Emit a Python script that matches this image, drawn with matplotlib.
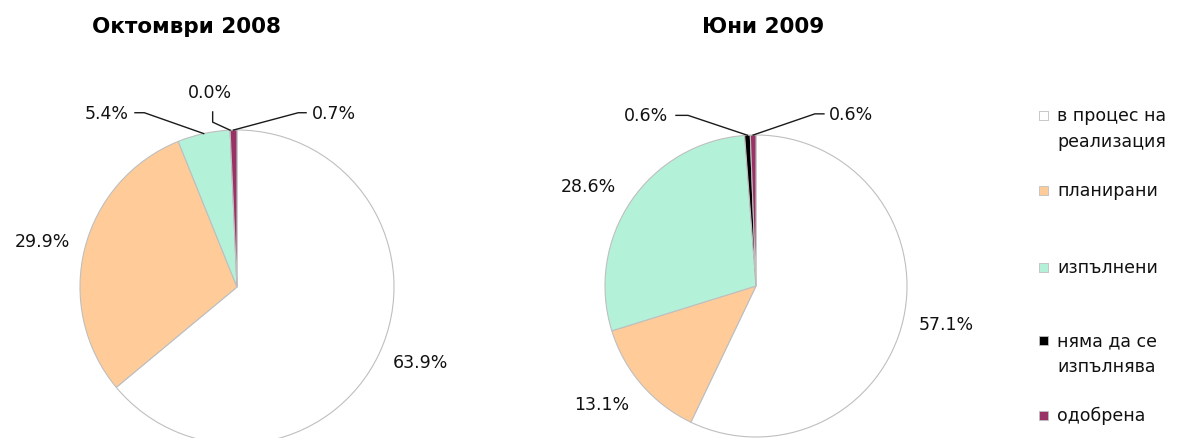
import numpy as np
import matplotlib.pyplot as plt
from matplotlib.patches import Rectangle

categories = ['в процес на\nреализация', 'планирани', 'изпълнени', 'няма да се\nизпълнява', 'одобрена']
colors = ['#ffffff', '#ffcc99', '#b3f2d9', '#000000', '#993366']
oct_2008 = [63.9, 29.9, 5.4, 0.0, 0.7]
jun_2009 = [57.1, 13.1, 28.6, 0.6, 0.6]
titles = ['Октомври 2008', 'Юни 2009']

W, H = 1181, 439
plt.rcParams['font.family'] = ['DejaVu Sans']
fig = plt.figure(figsize=(W / 100, H / 100), dpi=100)

# label layout per pie: text pos, alignment, leader path (elbow, stub end)
left_labels = [
    ((1.17, -0.48), 'center', []),
    ((-1.24, 0.29), 'center', []),
    ((-0.69, 1.11), 'right', [(-0.59, 1.11), (-0.65, 1.11)]),
    ((-0.17, 1.24), 'center', [(-0.155, 1.05), (-0.155, 1.115)]),
    ((0.48, 1.11), 'left', [(0.39, 1.11), (0.44, 1.11)]),
]
right_labels = [
    ((1.26, -0.25), 'center', []),
    ((-1.02, -0.78), 'center', []),
    ((-1.11, 0.66), 'center', []),
    ((-0.58, 1.13), 'right', [(-0.45, 1.13), (-0.53, 1.13)]),
    ((0.48, 1.14), 'left', [(0.39, 1.14), (0.45, 1.14)]),
]


def draw_pie(values, cx, cy, r, labels, title, tx):
    ax = fig.add_axes([(cx - r) / W, (H - cy - r) / H, 2 * r / W, 2 * r / H])
    wedges, _ = ax.pie(values, colors=colors, startangle=90, counterclock=False,
                       radius=1.0, wedgeprops=dict(edgecolor='#bfbfbf', linewidth=0.8))
    ax.set_xlim(-1, 1)
    ax.set_ylim(-1, 1)
    ax.set_aspect('equal')
    ax.axis('off')
    for w, v, (pos, ha, path) in zip(wedges, values, labels):
        ax.text(pos[0], pos[1], f'{v:.1f}%', ha=ha, va='center', fontsize=12.5,
                color='#111111', clip_on=False)
        if path:
            ang = np.deg2rad((w.theta1 + w.theta2) / 2)
            xs = [np.cos(ang)] + [p[0] for p in path]
            ys = [np.sin(ang)] + [p[1] for p in path]
            ax.plot(xs, ys, color='#1a1a1a', lw=1.0, clip_on=False)
    fig.text(tx / W, 1 - 27 / H, title, ha='center', va='center',
             fontsize=15.5, fontweight='bold')


draw_pie(oct_2008, 237, 288, 157, left_labels, titles[0], 186)
draw_pie(jun_2009, 756, 287, 151, right_labels, titles[1], 763)

# legend
leg_y = [116, 191, 268, 341, 416]
for cat, col, y in zip(categories, colors, leg_y):
    fig.patches.append(Rectangle((1039 / W, 1 - (y + 4.5) / H), 9 / W, 9 / H,
                                 transform=fig.transFigure, facecolor=col,
                                 edgecolor='#bfbfbf', linewidth=0.6))
    fig.text(1057 / W, 1 - (y - 9) / H, cat, ha='left', va='top', fontsize=12.5,
             color='#111111', linespacing=1.55)

fig.savefig('out.png', dpi=100)
